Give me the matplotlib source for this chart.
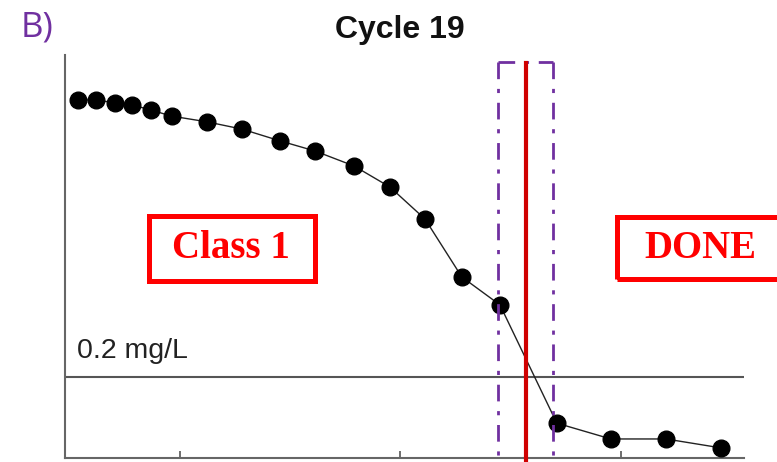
import matplotlib.pyplot as plt
from matplotlib.patches import Rectangle

# time axis (arbitrary units) and concentration (mg/L)
t = [3.9, 12.1, 20.7, 28.4, 37.0, 46.5, 62.4, 78.3, 95.5, 111.4,
     129.1, 145.4, 161.3, 178.0, 195.3, 221.1, 245.6, 270.6, 295.5]
conc = [0.884, 0.884, 0.877, 0.872, 0.859, 0.844, 0.830, 0.812, 0.783, 0.758,
        0.721, 0.669, 0.590, 0.447, 0.378, 0.086, 0.047, 0.047, 0.025]
threshold = 0.2
xticks = [50, 150, 250]
window = [194.5, 219.5]   # purple dash-dot window
switch = 207.0            # red line

W, H = 777, 462
fig = plt.figure(figsize=(W / 100, H / 100), dpi=100)
ax = fig.add_axes([65 / W, 4 / H, (744 - 65) / W, (458 - 55) / H])

ax.plot(t, conc, color='#222222', lw=1.0, marker='o', ms=12,
        mfc='black', mec='black', zorder=3)
ax.axhline(threshold, color='#555555', lw=1.5, zorder=1)
ax.text(3.5, threshold + 0.032, '0.2 mg/L', fontsize=20.5,
        family='Liberation Sans', color='#222222', va='bottom', ha='left')

ax.set_xlim(-2, 306)
ax.set_ylim(0, 0.995)
ax.set_xticks(xticks)
ax.set_xticklabels([])
ax.set_yticks([])
ax.tick_params(axis='x', direction='in', length=5, color='#555555', width=1.2)
for s in ['top', 'right']:
    ax.spines[s].set_visible(False)
for s in ['left', 'bottom']:
    ax.spines[s].set_color('#666666')
    ax.spines[s].set_linewidth(1.5)

# window lines (dash lengths get scaled by linewidth)
dd = (0, (6, 3.5, 1.5, 3.5))
top = 0.978
for xv in window:
    ax.plot([xv, xv], [top, -0.012], color='#7030A0', lw=2.0, ls=dd,
            clip_on=False, zorder=4)
ax.plot(window, [top, top], color='#7030A0', lw=2.0, ls=dd,
        clip_on=False, zorder=4)
ax.plot([switch, switch], [top - 0.003, -0.012], color='#D00000', lw=3.0,
        clip_on=False, zorder=5)

# label boxes (figure pixel coords)
def box(x0, y0, x1, y1):
    fig.patches.append(Rectangle((x0 / W, 1 - y1 / H), (x1 - x0) / W,
                                 (y1 - y0) / H, transform=fig.transFigure,
                                 fill=False, ec='#FF0000', lw=3.6))

box(148.5, 215.5, 314.5, 280.5)
box(616.5, 216.5, 800, 278.5)
fig.text(231 / W, 1 - 249 / H, 'Class 1', color='#FF0000', fontsize=28,
         family='Liberation Serif', weight='bold', ha='center', va='center')
fig.text(700 / W, 1 - 249 / H, 'DONE', color='#FF0000', fontsize=28,
         family='Liberation Serif', weight='bold', ha='center', va='center')

fig.text(400 / W, 1 - 30 / H, 'Cycle 19', fontsize=23, weight='bold',
         family='Liberation Sans', ha='center', va='center', color='#111111')
fig.text(21 / W, 1 - 36 / H, 'B)', fontsize=25, family='Open Sans',
         color='#7030A0', ha='left', va='baseline')

fig.savefig('out.png', dpi=100)
